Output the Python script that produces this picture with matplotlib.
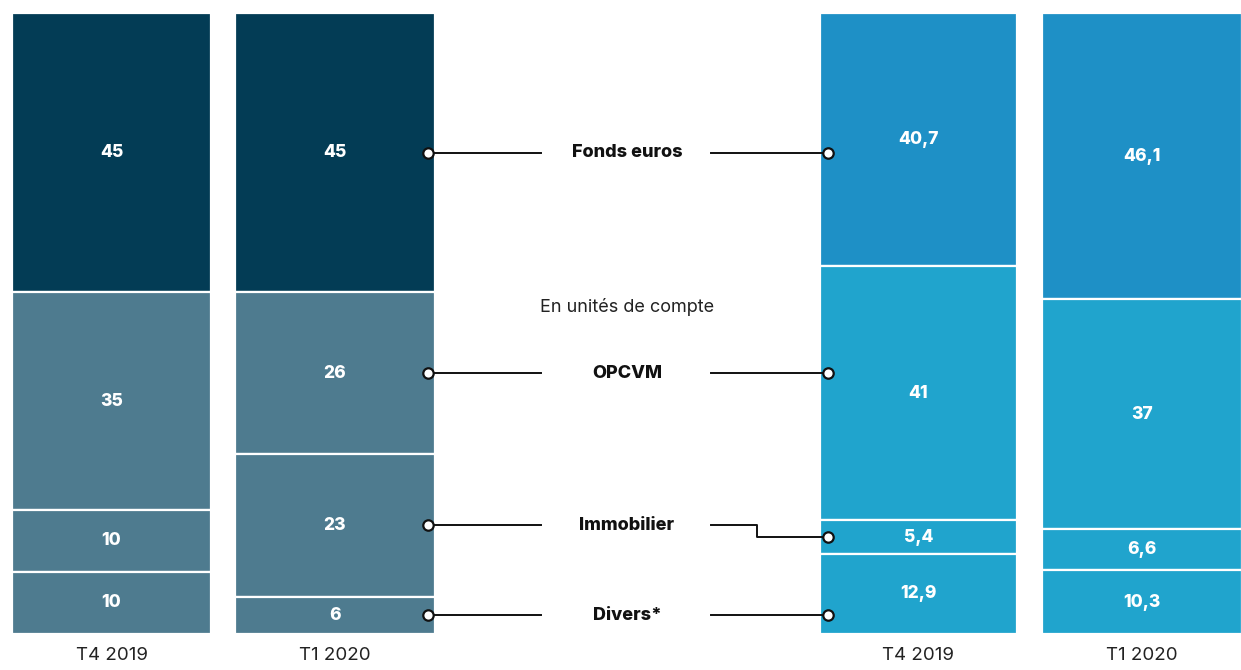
import matplotlib
matplotlib.use("Agg")
import matplotlib.pyplot as plt
import numpy as np

plt.rcParams['font.family'] = ['Inter', 'DejaVu Sans']

# ---- data ----
categories = ["Fonds euros", "OPCVM", "Immobilier", "Divers*"]
period_labels = ["T4 2019", "T1 2020", "T4 2019", "T1 2020"]
left_t4_2019 = [45, 35, 10, 10]
left_t1_2020 = [45, 26, 23, 6]
right_t4_2019 = [40.7, 41, 5.4, 12.9]
right_t1_2020 = [46.1, 37, 6.6, 10.3]
value_labels = [
    ["45", "35", "10", "10"],
    ["45", "26", "23", "6"],
    ["40,7", "41", "5,4", "12,9"],
    ["46,1", "37", "6,6", "10,3"],
]
subtitle = "En unités de compte"

series = [left_t4_2019, left_t1_2020, right_t4_2019, right_t1_2020]

# ---- layout / style ----
W, H = 1241, 670
fig = plt.figure(figsize=(W / 100, H / 100), dpi=100)
ax = fig.add_axes([0, 0, 1, 1])
ax.set_xlim(0, W)
ax.set_ylim(-5.8, 102.1)
ax.axis("off")

x_centers = [111.5, 335, 918.5, 1142]
widths = [199, 200, 197, 200]
top_colors_left = "#033c55"
low_colors_left = "#4e7b8f"
top_colors_right = "#1e90c6"
low_colors_right = "#20a4cd"

for i, vals in enumerate(series):
    left_side = i < 2
    tops = np.cumsum(vals[::-1])[::-1]
    bottoms = tops - np.array(vals)
    for j, v in enumerate(vals):
        if j == 0:
            c = top_colors_left if left_side else top_colors_right
        else:
            c = low_colors_left if left_side else low_colors_right
        ax.bar(x_centers[i], v, bottom=bottoms[j], width=widths[i], color=c,
               edgecolor="white", linewidth=1.6, zorder=2)
        ax.text(x_centers[i], bottoms[j] + v / 2, value_labels[i][j], color="white",
                fontsize=12.5, fontweight="heavy", ha="center", va="center", zorder=3)
    ax.text(x_centers[i], -3.4, period_labels[i], fontsize=13.5, ha="center",
            va="center", color="#222222")

# connectors
l_vals = np.array(left_t1_2020)
l_tops = np.cumsum(l_vals[::-1])[::-1]
l_centers = l_tops - l_vals / 2
r_vals = np.array(right_t4_2019)
r_tops = np.cumsum(r_vals[::-1])[::-1]
r_centers = r_tops - r_vals / 2

dot_left_x = 428
dot_right_x = 828
label_x = 627
seg_left_end = 541
seg_right_start = 711
step_x = 757

for k, name in enumerate(categories):
    yl = l_centers[k]
    yr = r_centers[k] if name == "Immobilier" else yl
    ax.plot([dot_left_x, seg_left_end], [yl, yl], color="#111111", lw=1.4, zorder=4)
    if yr != yl:
        ax.plot([seg_right_start, step_x, step_x, dot_right_x], [yl, yl, yr, yr],
                color="#111111", lw=1.4, zorder=4)
    else:
        ax.plot([seg_right_start, dot_right_x], [yl, yl], color="#111111", lw=1.4, zorder=4)
    ax.plot([dot_left_x], [yl], marker="o", ms=7.5, mfc="white", mec="#111111",
            mew=1.6, zorder=5)
    ax.plot([dot_right_x], [yr], marker="o", ms=7.5, mfc="white", mec="#111111",
            mew=1.6, zorder=5)
    ax.text(label_x, yl, name, fontsize=13, fontweight="heavy", ha="center",
            va="center", color="#111111")

ax.text(label_x, 52.7, subtitle, fontsize=13, ha="center", va="center", color="#222222")

fig.savefig("out.png", dpi=100, facecolor="white")
